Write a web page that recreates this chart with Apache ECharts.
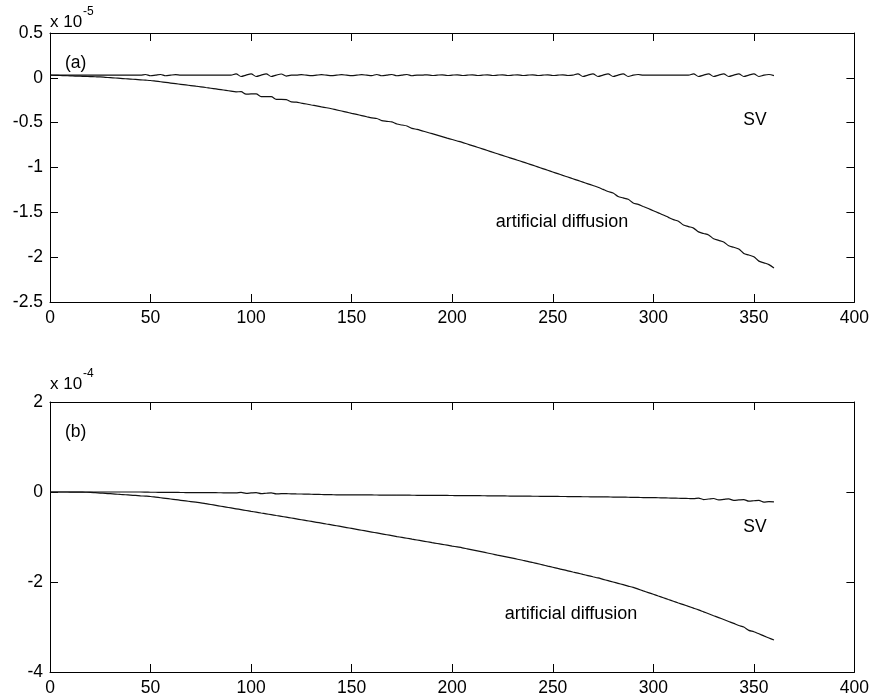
<!DOCTYPE html>
<html>
<head>
<meta charset="utf-8">
<script src="https://cdn.jsdelivr.net/npm/echarts@6/dist/echarts.min.js"></script>
<style>
html,body{margin:0;padding:0;background:#fff;}
#chart{width:872px;height:700px;}
</style>
</head>
<body>
<div id="chart"></div>
<script>
// sample positions (time)
const xs = [0,2.5,5,7.5,10,12.5,15,17.5,20,22.5,25,27.5,30,32.5,35,37.5,40,42.5,45,47.5,
50,52.5,55,57.5,60,62.5,65,67.5,70,72.5,75,77.5,80,82.5,85,87.5,90,92.5,95,97.5,
100,102.5,105,107.5,110,112.5,115,117.5,120,122.5,125,127.5,130,132.5,135,137.5,140,142.5,145,147.5,
150,152.5,155,157.5,160,162.5,165,167.5,170,172.5,175,177.5,180,182.5,185,187.5,190,192.5,195,197.5,
200,202.5,205,207.5,210,212.5,215,217.5,220,222.5,225,227.5,230,232.5,235,237.5,240,242.5,245,247.5,
250,252.5,255,257.5,260,262.5,265,267.5,270,272.5,275,277.5,280,282.5,285,287.5,290,292.5,295,297.5,
300,302.5,305,307.5,310,312.5,315,317.5,320,322.5,325,327.5,330,332.5,335,337.5,340,342.5,345,347.5,
350,352.5,355,357.5,360];

// panel (a): values in units of 1e-5
const svA = [0.03,0.03,0.03,0.03,0.03,0.03,0.03,0.03,0.03,0.03,0.03,0.03,0.03,0.03,0.03,0.03,0.03,0.03,0.03,
0.037,0.023,0.03,0.037,0.023,0.03,0.035,0.03,
0.03,0.03,0.03,0.03,0.03,0.03,0.03,0.03,0.03,0.03,
0.045,0.015,0.03,0.045,0.015,0.03,0.045,0.015,0.03,0.043,0.02,0.03,
0.03,0.035,0.03,0.025,0.03,0.035,0.03,0.025,0.03,0.035,0.03,0.025,0.03,0.035,0.03,0.025,
0.037,0.023,0.03,0.037,0.023,0.03,0.037,0.023,0.03,
0.03,0.034,0.026,0.03,0.034,0.026,0.03,0.034,0.026,0.03,0.034,0.026,0.03,0.034,0.026,
0.03,0.034,0.026,0.03,0.034,0.026,0.03,0.034,0.026,0.03,0.034,0.026,0.03,0.034,0.026,0.03,
0.045,0.015,0.03,0.045,0.015,0.03,0.045,0.015,0.03,0.045,0.015,0.03,0.037,
0.03,0.03,0.03,0.03,0.03,0.03,0.03,0.03,0.03,0.03,
0.045,0.015,0.03,0.045,0.015,0.03,0.045,0.015,0.03,0.045,0.015,0.03,0.045,0.015,0.03,0.037,0.025];

const diffA = [0.03,0.028,0.026,0.024,0.022,0.02,0.018,0.016,0.014,0.012,
0.01,0.006,0.002,-0.002,-0.006,-0.01,-0.014,-0.018,-0.022,-0.026,
-0.03,-0.037,-0.044,-0.051,-0.058,-0.065,-0.072,-0.079,-0.086,-0.093,
-0.1,-0.108,-0.116,-0.124,-0.132,-0.14,-0.148,-0.156,-0.154,-0.182,
-0.18,-0.18,-0.21,-0.21,-0.21,-0.24,-0.24,-0.243,-0.268,-0.271,
-0.282,-0.292,-0.303,-0.313,-0.324,-0.334,-0.345,-0.358,-0.37,-0.383,
-0.396,-0.408,-0.421,-0.434,-0.447,-0.454,-0.477,-0.485,-0.492,-0.515,
-0.526,-0.537,-0.563,-0.575,-0.591,-0.607,-0.623,-0.639,-0.655,-0.672,
-0.688,-0.704,-0.72,-0.738,-0.756,-0.774,-0.792,-0.81,-0.829,-0.847,
-0.865,-0.883,-0.901,-0.919,-0.937,-0.955,-0.974,-0.993,-1.012,-1.031,
-1.05,-1.069,-1.088,-1.106,-1.125,-1.144,-1.163,-1.182,-1.201,-1.22,
-1.244,-1.268,-1.284,-1.323,-1.339,-1.355,-1.395,-1.411,-1.435,-1.458,
-1.482,-1.506,-1.53,-1.556,-1.581,-1.599,-1.641,-1.659,-1.676,-1.718,
-1.736,-1.753,-1.795,-1.813,-1.831,-1.872,-1.89,-1.909,-1.958,-1.976,
-1.995,-2.044,-2.063,-2.083,-2.12];

// panel (b): values in units of 1e-4
const svB = [0,0,0,0,0,0,0,0,0,0,0,0,0,0,0,0,0,0,0,
-0.002,-0.005,-0.006,-0.007,-0.008,-0.009,-0.01,-0.011,-0.012,-0.013,
-0.014,-0.014,-0.015,-0.016,-0.016,-0.017,-0.018,-0.018,-0.019,-0.01,
-0.03,-0.021,-0.013,-0.036,-0.028,-0.021,-0.043,-0.036,-0.038,-0.04,
-0.043,-0.045,-0.048,-0.05,-0.053,-0.055,-0.058,-0.06,-0.062,-0.062,
-0.063,-0.063,-0.064,-0.065,-0.065,-0.066,-0.067,-0.068,-0.068,-0.069,
-0.07,-0.07,-0.071,-0.072,-0.073,-0.073,-0.074,-0.075,-0.076,-0.076,
-0.077,-0.078,-0.079,-0.079,-0.08,-0.081,-0.082,-0.083,-0.084,-0.085,
-0.086,-0.087,-0.089,-0.09,-0.091,-0.092,-0.093,-0.094,-0.095,-0.096,
-0.097,-0.098,-0.099,-0.1,-0.101,-0.102,-0.104,-0.105,-0.106,-0.107,
-0.108,-0.109,-0.11,-0.112,-0.114,-0.115,-0.117,-0.119,-0.121,-0.123,
-0.124,-0.126,-0.128,-0.13,-0.133,-0.136,-0.139,-0.141,-0.144,-0.147,
-0.135,-0.168,-0.156,-0.144,-0.176,-0.164,-0.152,-0.185,-0.176,-0.168,
-0.204,-0.195,-0.186,-0.223,-0.214,-0.22];

const diffB = [0,0,0,0,-0.001,-0.002,-0.003,-0.005,-0.007,-0.015,
-0.023,-0.03,-0.038,-0.046,-0.054,-0.061,-0.069,-0.077,-0.085,-0.092,
-0.1,-0.114,-0.128,-0.142,-0.156,-0.17,-0.184,-0.198,-0.212,-0.226,
-0.24,-0.259,-0.278,-0.297,-0.316,-0.335,-0.354,-0.373,-0.392,-0.411,
-0.43,-0.448,-0.467,-0.485,-0.503,-0.522,-0.54,-0.559,-0.578,-0.597,
-0.616,-0.635,-0.654,-0.673,-0.692,-0.711,-0.73,-0.75,-0.77,-0.79,
-0.81,-0.83,-0.85,-0.87,-0.89,-0.91,-0.93,-0.95,-0.97,-0.99,
-1.009,-1.028,-1.048,-1.067,-1.086,-1.105,-1.125,-1.144,-1.163,-1.182,
-1.202,-1.221,-1.24,-1.263,-1.286,-1.309,-1.332,-1.355,-1.378,-1.402,
-1.425,-1.448,-1.471,-1.494,-1.517,-1.54,-1.566,-1.593,-1.619,-1.646,
-1.672,-1.699,-1.725,-1.751,-1.778,-1.804,-1.831,-1.857,-1.884,-1.91,
-1.94,-1.97,-2.0,-2.03,-2.06,-2.09,-2.12,-2.158,-2.197,-2.235,
-2.273,-2.312,-2.35,-2.389,-2.427,-2.466,-2.504,-2.543,-2.581,-2.62,
-2.663,-2.706,-2.749,-2.791,-2.834,-2.877,-2.92,-2.966,-3.0,-3.075,
-3.105,-3.151,-3.198,-3.244,-3.29];

// axis ticks
const xTicks = {min: 0, max: 400, interval: 50};
const yTicksA = {min: -2.5, max: 0.5, interval: 0.5};
const yTicksB = {min: -4, max: 2, interval: 2};

const FONT = "'Liberation Sans', Arial, Helvetica, sans-serif";
const pair = (arr) => xs.map((x, i) => [x, arr[i]]);

function xAx(grid, pos) {
  return {
    gridIndex: grid, type: 'value', position: pos,
    min: xTicks.min, max: xTicks.max, interval: xTicks.interval,
    axisLine: {show: true, onZero: false, lineStyle: {color: '#000', width: 1}},
    axisTick: {show: true, inside: true, length: 8, lineStyle: {color: '#000'}},
    axisLabel: {show: pos === 'bottom', color: '#000', fontSize: 17.5, fontFamily: FONT, margin: 7},
    splitLine: {show: false}
  };
}
function yAx(grid, pos, t) {
  return {
    gridIndex: grid, type: 'value', position: pos,
    min: t.min, max: t.max, interval: t.interval,
    axisLine: {show: true, onZero: false, lineStyle: {color: '#000', width: 1}},
    axisTick: {show: true, inside: true, length: 8, lineStyle: {color: '#000'}},
    axisLabel: {show: pos === 'left', color: '#000', fontSize: 17.5, fontFamily: FONT, margin: 7},
    splitLine: {show: false}
  };
}
function txt(x, y, text, size, align) {
  return {
    type: 'text', x: x, y: y,
    style: {text: text, fill: '#000', font: size + 'px ' + FONT,
      align: align, verticalAlign: 'middle', textAlign: align, textVerticalAlign: 'middle'}
  };
}
const lineStyle = {color: '#111', width: 1.2};

const chart = echarts.init(document.getElementById('chart'), null, {renderer: 'canvas'});
chart.setOption({
  animation: false,
  backgroundColor: '#fff',
  grid: [
    {left: 50, top: 33, width: 806, height: 269},
    {left: 50, top: 402, width: 806, height: 270}
  ],
  xAxis: [xAx(0, 'bottom'), xAx(0, 'top'), xAx(1, 'bottom'), xAx(1, 'top')],
  yAxis: [yAx(0, 'left', yTicksA), yAx(0, 'right', yTicksA), yAx(1, 'left', yTicksB), yAx(1, 'right', yTicksB)],
  series: [
    {name: 'SV', type: 'line', xAxisIndex: 0, yAxisIndex: 0, data: pair(svA), showSymbol: false, smooth: 0.3, lineStyle: lineStyle},
    {name: 'artificial diffusion', type: 'line', xAxisIndex: 0, yAxisIndex: 0, data: pair(diffA), showSymbol: false, smooth: 0.3, lineStyle: lineStyle},
    {name: 'SV', type: 'line', xAxisIndex: 2, yAxisIndex: 2, data: pair(svB), showSymbol: false, smooth: 0.3, lineStyle: lineStyle},
    {name: 'artificial diffusion', type: 'line', xAxisIndex: 2, yAxisIndex: 2, data: pair(diffB), showSymbol: false, smooth: 0.3, lineStyle: lineStyle}
  ],
  graphic: [
    txt(50, 22, 'x 10', 17, 'left'),
    txt(83, 12, '-5', 12, 'left'),
    txt(65, 63, '(a)', 17.5, 'left'),
    txt(755, 120, 'SV', 17.5, 'center'),
    txt(562, 222, 'artificial diffusion', 18, 'center'),
    txt(50, 384, 'x 10', 17, 'left'),
    txt(83, 374, '-4', 12, 'left'),
    txt(65, 432, '(b)', 17.5, 'left'),
    txt(755, 527, 'SV', 17.5, 'center'),
    txt(571, 614, 'artificial diffusion', 18, 'center')
  ]
});
</script>
</body>
</html>
